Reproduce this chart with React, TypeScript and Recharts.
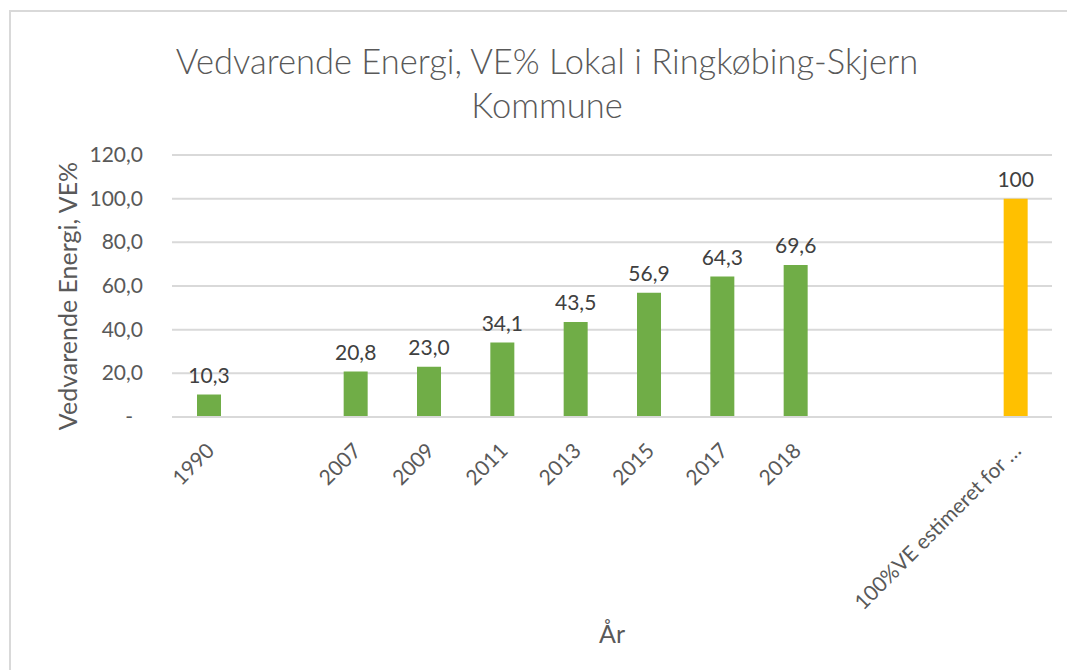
import { BarChart, Bar, XAxis, YAxis, CartesianGrid, LabelList } from "recharts";

const categories = ["1990", "", "2007", "2009", "2011", "2013", "2015", "2017", "2018", "", "", "100%VE estimeret for …"];
const veValues = [10.3, null, 20.8, 23.0, 34.1, 43.5, 56.9, 64.3, 69.6, null, null, null];
const targetValues = [null, null, null, null, null, null, null, null, null, null, null, 100];
const yTicks = [0, 20, 40, 60, 80, 100, 120];

const data = categories.map((name, i) => ({ name, ve: veValues[i], target: targetValues[i] }));

const FONT = "Lato, 'Open Sans', sans-serif";
const GREY = "#595959";

const comma = (v: number) => v.toFixed(1).replace(".", ",");

const XTick = ({ x, y, payload }: any) => {
  const ax = x + 7;
  const ay = y + 33;
  return (
    <text
      x={ax}
      y={ay}
      transform={`rotate(-45, ${ax}, ${ay})`}
      textAnchor="end"
      fill={GREY}
      fontSize={21}
      fontFamily={FONT}
    >
      {payload.value}
    </text>
  );
};

const YTick = ({ x, y, payload }: any) => (
  <text
    x={payload.value === 0 ? x - 10 : x}
    y={y}
    dy={7}
    textAnchor="end"
    fill={GREY}
    fontSize={21}
    fontFamily={FONT}
  >
    {payload.value === 0 ? "-" : comma(payload.value)}
  </text>
);

const YTitle = ({ viewBox }: any) => {
  const cx = viewBox.x + 67;
  const cy = viewBox.y + viewBox.height / 2 + 10;
  return (
    <text
      x={cx}
      y={cy}
      transform={`rotate(-90, ${cx}, ${cy})`}
      textAnchor="middle"
      dominantBaseline="central"
      fill={GREY}
      fontSize={25}
      fontFamily={FONT}
    >
      Vedvarende Energi, VE%
    </text>
  );
};

const App = () => {
  return (
    <div style={{ position: "absolute", left: 0, top: 0, width: 1067, height: 670, background: "#fff", overflow: "hidden" }}>
      <div
        style={{
          position: "absolute",
          left: 9,
          top: 10,
          width: 1070,
          height: 680,
          border: "2px solid #D9D9D9",
          boxSizing: "border-box",
        }}
      />
      <div
        style={{
          position: "absolute",
          left: 147,
          top: 39,
          width: 800,
          textAlign: "center",
          fontFamily: FONT,
          fontWeight: 300,
          fontSize: 34.5,
          lineHeight: "44px",
          color: GREY,
        }}
      >
        Vedvarende Energi, VE% Lokal i Ringkøbing-Skjern
        <br />
        Kommune
      </div>
      <div style={{ position: "absolute", left: 0, top: 0 }}>
        <BarChart width={1067} height={670} data={data} margin={{ top: 155, right: 15, left: 0, bottom: 0 }}>
          <CartesianGrid vertical={false} stroke="#D9D9D9" strokeWidth={2} />
          <XAxis
            dataKey="name"
            height={253}
            axisLine={{ stroke: "#D9D9D9", strokeWidth: 2 }}
            tickLine={false}
            tickSize={0}
            interval={0}
            tick={<XTick />}
            label={{
              value: "År",
              position: "insideBottom",
              offset: 27,
              fill: GREY,
              fontSize: 25,
              fontFamily: FONT,
            }}
          />
          <YAxis
            width={172}
            domain={[0, 120]}
            ticks={yTicks}
            axisLine={false}
            tickLine={false}
            tickSize={0}
            tickMargin={29}
            tick={<YTick />}
            label={<YTitle />}
          />
          <Bar dataKey="ve" stackId="a" fill="#70AD47" barSize={24} isAnimationActive={false}>
            <LabelList
              dataKey="ve"
              position="top"
              offset={12}
              fill="#404040"
              fontSize={21}
              fontFamily={FONT}
              formatter={(v: any) => (v == null ? "" : comma(v))}
            />
          </Bar>
          <Bar dataKey="target" stackId="a" fill="#FFC000" barSize={24} isAnimationActive={false}>
            <LabelList
              dataKey="target"
              position="top"
              offset={12}
              fill="#404040"
              fontSize={21}
              fontFamily={FONT}
              formatter={(v: any) => (v == null ? "" : String(v))}
            />
          </Bar>
        </BarChart>
      </div>
    </div>
  );
};

export default App;
